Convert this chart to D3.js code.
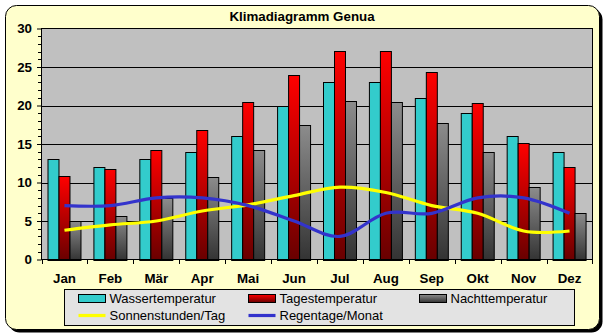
<!DOCTYPE html>
<html>
<head>
<meta charset="utf-8">
<script src="https://cdn.jsdelivr.net/npm/d3@7"></script>
<style>
  html, body { margin: 0; padding: 0; background: #ffffff; }
  svg { display: block; font-family: "Liberation Sans", Arial, sans-serif; }
</style>
</head>
<body>
<svg id="chart" width="609" height="336"></svg>
<script>
// Klimadaten Genua
const months = ["Jan", "Feb", "Mär", "Apr", "Mai", "Jun", "Jul", "Aug", "Sep", "Okt", "Nov", "Dez"];
const wassertemperatur = [13, 12, 13, 14, 16, 20, 23, 23, 21, 19, 16, 14];
const tagestemperatur  = [10.9, 11.8, 14.2, 16.8, 20.5, 23.9, 27.1, 27.1, 24.3, 20.3, 15.1, 12];
const nachttemperatur  = [5, 5.7, 8, 10.7, 14.2, 17.5, 20.6, 20.5, 17.7, 14, 9.4, 6.1];
const sonnenstunden    = [3.8, 4.5, 5.0, 6.3, 7.1, 8.3, 9.4, 8.7, 7.0, 6.0, 3.7, 3.7];
const regentage        = [7, 7, 8, 8, 7, 5, 3, 6, 6, 8, 8, 6];
const yTicks = [0, 5, 10, 15, 20, 25, 30];

const barSeries = [
  { name: "Wassertemperatur", values: wassertemperatur, fill: "#33CCCC" },
  { name: "Tagestemperatur",  values: tagestemperatur,  fill: "url(#gradRed)" },
  { name: "Nachttemperatur",  values: nachttemperatur,  fill: "url(#gradGray)" }
];
const lineSeries = [
  { name: "Sonnenstunden/Tag", values: sonnenstunden, color: "#FFFF00" },
  { name: "Regentage/Monat",   values: regentage,     color: "#3333CC" }
];

const svg = d3.select("#chart");
const defs = svg.append("defs");

function gradient(id, c0, c1) {
  const g = defs.append("linearGradient").attr("id", id)
    .attr("x1", 0).attr("y1", 0).attr("x2", 0).attr("y2", 1);
  g.append("stop").attr("offset", "0%").attr("stop-color", c0);
  g.append("stop").attr("offset", "100%").attr("stop-color", c1);
}
gradient("gradRed", "#FF0000", "#680000");
gradient("gradGray", "#8C8C8C", "#333333");

// Outer frame with shadow
svg.append("rect").attr("x", 8.5).attr("y", 8.5).attr("width", 594).attr("height", 324)
  .attr("rx", 11).attr("fill", "#000");
svg.append("rect").attr("x", 5.5).attr("y", 5.5).attr("width", 594).attr("height", 324)
  .attr("rx", 11).attr("fill", "#FFFFCC").attr("stroke", "#000").attr("stroke-width", 1);

// Title
svg.append("text").attr("x", 302).attr("y", 20.7).attr("text-anchor", "middle")
  .attr("font-size", "13.33px").attr("font-weight", "bold").attr("fill", "#000")
  .text("Klimadiagramm Genua");

// Scales
const plotL = 41.5, plotR = 592.5, plotT = 28.5, plotB = 259.5;
const x = d3.scaleBand().domain(months).range([plotL, plotR]).padding(0);
const x1 = d3.scaleBand().domain(barSeries.map(s => s.name))
  .range([0, x.bandwidth()]).paddingInner(0).paddingOuter(0.59).align(0.44);
const y = d3.scaleLinear().domain([0, 30]).range([plotB, plotT]);

// Plot area
svg.append("rect").attr("x", plotL).attr("y", plotT).attr("width", plotR - plotL).attr("height", plotB - plotT)
  .attr("fill", "#C0C0C0");

// Gridlines
svg.append("g").selectAll("line").data(yTicks.filter(t => t > 0 && t < 30)).join("line")
  .attr("x1", plotL).attr("x2", plotR)
  .attr("y1", d => Math.round(y(d)) + 0.5).attr("y2", d => Math.round(y(d)) + 0.5)
  .attr("stroke", "#000").attr("stroke-width", 1);

// Bars
const groups = svg.append("g").selectAll("g").data(months).join("g")
  .attr("transform", d => `translate(${x(d)},0)`);
groups.selectAll("rect")
  .data((m, i) => barSeries.map(s => ({ s, v: s.values[i] })))
  .join("rect")
  .attr("x", d => Math.round(x1(d.s.name)) + 0.5)
  .attr("width", x1.bandwidth())
  .attr("y", d => Math.round(y(d.v)) + 0.5)
  .attr("height", d => Math.round(y(0)) - Math.round(y(d.v)))
  .attr("fill", d => d.s.fill)
  .attr("stroke", "#000").attr("stroke-width", 1);

// Plot border
svg.append("rect").attr("x", plotL).attr("y", plotT).attr("width", plotR - plotL).attr("height", plotB - plotT)
  .attr("fill", "none").attr("stroke", "#000").attr("stroke-width", 1);

// Smoothed lines
const line = d3.line()
  .x((d, i) => x(months[i]) + x.bandwidth() / 2)
  .y(d => y(d))
  .curve(d3.curveCardinal.tension(0));
svg.append("g").selectAll("path").data(lineSeries).join("path")
  .attr("d", d => line(d.values))
  .attr("fill", "none").attr("stroke", d => d.color).attr("stroke-width", 3.2)
  .attr("stroke-linejoin", "round");

// Y axis
const yAxis = d3.axisLeft(y).tickValues(yTicks).tickSize(4.5).tickPadding(5).tickFormat(d3.format("d"));
const gy = svg.append("g").attr("transform", `translate(${plotL},0)`).call(yAxis);
gy.select(".domain").remove();
gy.selectAll(".tick line").attr("stroke", "#000");
gy.selectAll(".tick text").attr("font-size", "13.33px").attr("font-weight", "bold")
  .attr("font-family", "Liberation Sans, Arial, sans-serif").attr("fill", "#000");
// minor ticks
const minor = d3.range(0, 31).filter(v => v % 5 !== 0);
svg.append("g").selectAll("line").data(minor).join("line")
  .attr("x1", plotL - 3.5).attr("x2", plotL)
  .attr("y1", d => Math.round(y(d)) + 0.5).attr("y2", d => Math.round(y(d)) + 0.5)
  .attr("stroke", "#000");
svg.append("line").attr("x1", plotL).attr("x2", plotL).attr("y1", plotT).attr("y2", plotB)
  .attr("stroke", "#000");

// X axis
const gx = svg.append("g").attr("transform", `translate(0,${plotB})`);
gx.append("line").attr("x1", plotL).attr("x2", plotR).attr("stroke", "#000");
const boundaries = months.map(m => x(m)).concat([x(months[months.length - 1]) + x.bandwidth()]);
gx.selectAll("line.tk").data(boundaries).join("line").attr("class", "tk")
  .attr("x1", d => Math.round(d) + 0.5).attr("x2", d => Math.round(d) + 0.5)
  .attr("y1", 0).attr("y2", 4.5).attr("stroke", "#000");
gx.selectAll("text").data(months).join("text")
  .attr("x", d => x(d) + x.bandwidth() / 2).attr("y", 23.2)
  .attr("text-anchor", "middle").attr("font-size", "13.33px").attr("font-weight", "bold")
  .attr("fill", "#000").text(d => d);

// Legend
const lg = svg.append("g");
lg.append("rect").attr("x", 64.5).attr("y", 289.5).attr("width", 510).attr("height", 36)
  .attr("fill", "#E3E3E3").attr("stroke", "#000");
const legendItems = [
  { label: barSeries[0].name, kind: "bar", fill: barSeries[0].fill, col: 0, row: 0 },
  { label: barSeries[1].name, kind: "bar", fill: barSeries[1].fill, col: 1, row: 0 },
  { label: barSeries[2].name, kind: "bar", fill: barSeries[2].fill, col: 2, row: 0 },
  { label: lineSeries[0].name, kind: "line", color: lineSeries[0].color, col: 0, row: 1 },
  { label: lineSeries[1].name, kind: "line", color: lineSeries[1].color, col: 1, row: 1 }
];
const colX = [78.5, 248.5, 419.5];
const rowY = [298.5, 315.5];
legendItems.forEach(it => {
  const lx = colX[it.col], ly = rowY[it.row];
  if (it.kind === "bar") {
    lg.append("rect").attr("x", lx).attr("y", ly - 4).attr("width", 27).attr("height", 8)
      .attr("fill", it.fill).attr("stroke", "#000");
  } else {
    lg.append("line").attr("x1", lx).attr("x2", lx + 27).attr("y1", ly).attr("y2", ly)
      .attr("stroke", it.color).attr("stroke-width", 3.2);
  }
  lg.append("text").attr("x", lx + 31).attr("y", ly + 4.8)
    .attr("font-size", "13px").attr("fill", "#000").text(it.label);
});
</script>
</body>
</html>
